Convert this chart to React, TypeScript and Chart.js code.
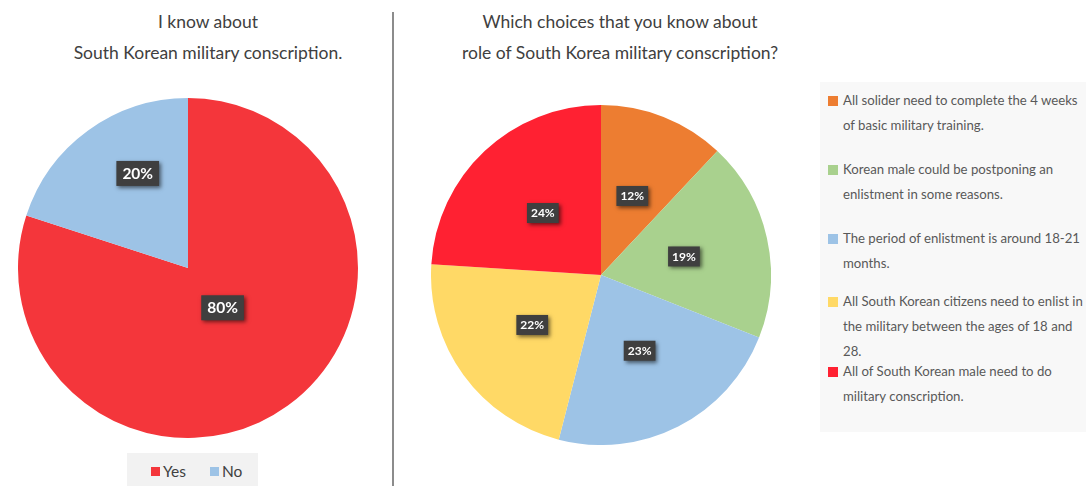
import React, { useEffect, useRef } from "react";
import { Chart, registerables } from "chart.js";

Chart.register(...registerables);

// ---------- data ----------
const LEFT_TITLE = ["I know about", "South Korean military conscription."];
const LEFT_LABELS = ["Yes", "No"];
const LEFT_VALUES = [80, 20];
const LEFT_COLORS = ["#F4363B", "#9DC3E6"];

const RIGHT_TITLE = ["Which choices that you know about", "role of South Korea military conscription?"];
const RIGHT_LABELS = [
  "All solider need to complete the 4 weeks\nof basic military training.",
  "Korean male could be postponing an\nenlistment in some reasons.",
  "The period of enlistment is around 18-21\nmonths.",
  "All South Korean citizens need to enlist in\nthe military between the ages of 18 and\n28.",
  "All of South Korean male need to do\nmilitary conscription.",
];
const RIGHT_VALUES = [12, 19, 23, 22, 24];
const RIGHT_COLORS = ["#ED7D31", "#A9D18E", "#9DC3E6", "#FFD966", "#FF2132"];

// label placement (fraction of radius, angle shift in degrees)
const LEFT_LABEL_RADIUS = [0.31, 0.63];
const LEFT_LABEL_SHIFT = [-5, 8];
const RIGHT_LABEL_RADIUS = [0.5, 0.5, 0.5, 0.5, 0.5];
const RIGHT_LABEL_SHIFT = [0, 0, 0, 0, 0];

// legend item tops (layout)
const RIGHT_LEGEND_TOPS = [88, 157, 226, 289, 359];

const FONT = "Lato, 'Open Sans', sans-serif";

function makeLabelPlugin(radiusFr: number[], shift: number[], fontSize: number, padX: number, boxH: number) {
  return {
    id: "boxLabels",
    afterDatasetsDraw(chart: any) {
      const ctx = chart.ctx;
      const meta = chart.getDatasetMeta(0);
      const ds = chart.data.datasets[0];
      const total = (ds.data as number[]).reduce((a, b) => a + b, 0);
      meta.data.forEach((arc: any, i: number) => {
        const p = arc.getProps(["x", "y", "startAngle", "endAngle", "outerRadius"], true);
        const ang = (p.startAngle + p.endAngle) / 2 + (shift[i] * Math.PI) / 180;
        const r = p.outerRadius * radiusFr[i];
        const cx = p.x + Math.cos(ang) * r;
        const cy = p.y + Math.sin(ang) * r;
        const txt = Math.round((ds.data[i] / total) * 100) + "%";
        ctx.save();
        ctx.font = `bold ${fontSize}px ${FONT}`;
        const tw = ctx.measureText(txt).width;
        const w = tw + padX * 2;
        ctx.shadowColor = "rgba(0,0,0,0.55)";
        ctx.shadowBlur = 4;
        ctx.shadowOffsetX = 2;
        ctx.shadowOffsetY = 2;
        ctx.fillStyle = "#3F3F3F";
        ctx.fillRect(cx - w / 2, cy - boxH / 2, w, boxH);
        ctx.shadowColor = "transparent";
        ctx.fillStyle = "#FFFFFF";
        ctx.textAlign = "center";
        ctx.textBaseline = "middle";
        ctx.fillText(txt, cx, cy + 0.5);
        ctx.restore();
      });
    },
  };
}

function PieCanvas(props: {
  labels: string[];
  values: number[];
  colors: string[];
  plugin: any;
  style: React.CSSProperties;
}) {
  const ref = useRef<HTMLCanvasElement>(null);
  useEffect(() => {
    if (!ref.current) return;
    const chart = new Chart(ref.current, {
      type: "pie",
      data: {
        labels: props.labels,
        datasets: [
          {
            data: props.values,
            backgroundColor: props.colors,
            borderWidth: 0,
          },
        ],
      },
      options: {
        responsive: false,
        animation: false,
        layout: { padding: 0 },
        plugins: { legend: { display: false }, tooltip: { enabled: false }, title: { display: false } },
      },
      plugins: [props.plugin],
    });
    return () => chart.destroy();
  }, []);
  return <canvas ref={ref} width={340} height={340} style={{ position: "absolute", ...props.style }} />;
}

export default function App() {
  const titleStyle: React.CSSProperties = {
    position: "absolute",
    textAlign: "center",
    fontFamily: FONT,
    fontSize: 17.5,
    color: "#404040",
    lineHeight: "31px",
  };
  return (
    <div
      style={{
        position: "absolute",
        left: 0,
        top: 0,
        width: 1086,
        height: 486,
        background: "#FFFFFF",
        overflow: "hidden",
        fontFamily: FONT,
      }}
    >
      {/* left title */}
      <div style={{ ...titleStyle, left: 8, width: 400, top: 6 }}>
        {LEFT_TITLE.map((t, i) => (
          <div key={i}>{t}</div>
        ))}
      </div>
      {/* right title */}
      <div style={{ ...titleStyle, left: 420, width: 400, top: 6 }}>
        {RIGHT_TITLE.map((t, i) => (
          <div key={i}>{t}</div>
        ))}
      </div>

      {/* divider */}
      <div style={{ position: "absolute", left: 392, top: 12, width: 1.5, height: 480, background: "#8C8C8C" }} />

      <PieCanvas
        labels={LEFT_LABELS}
        values={LEFT_VALUES}
        colors={LEFT_COLORS}
        plugin={makeLabelPlugin(LEFT_LABEL_RADIUS, LEFT_LABEL_SHIFT, 15.5, 6, 25)}
        style={{ left: 18, top: 98 }}
      />
      <PieCanvas
        labels={RIGHT_LABELS}
        values={RIGHT_VALUES}
        colors={RIGHT_COLORS}
        plugin={makeLabelPlugin(RIGHT_LABEL_RADIUS, RIGHT_LABEL_SHIFT, 12, 4, 20)}
        style={{ left: 431, top: 105 }}
      />

      {/* left legend */}
      <div
        style={{
          position: "absolute",
          left: 127,
          top: 453,
          width: 131,
          height: 40,
          background: "#F2F2F2",
        }}
      >
        <div
          style={{
            position: "absolute",
            top: 8,
            left: 24,
            display: "flex",
            alignItems: "center",
            fontSize: 15.5,
            color: "#404040",
            lineHeight: "20px",
          }}
        >
          {LEFT_LABELS.map((l, i) => (
            <div key={i} style={{ display: "flex", alignItems: "center", marginRight: i === 0 ? 24 : 0 }}>
              <span style={{ display: "inline-block", width: 9, height: 9, background: LEFT_COLORS[i], marginRight: 3 }} />
              <span>{l}</span>
            </div>
          ))}
        </div>
      </div>

      {/* right legend */}
      <div
        style={{
          position: "absolute",
          left: 820,
          top: 82,
          width: 266,
          height: 350,
          background: "#F8F8F8",
        }}
      >
        {RIGHT_LABELS.map((l, i) => (
          <div
            key={i}
            style={{
              position: "absolute",
              left: 8,
              top: RIGHT_LEGEND_TOPS[i] - 82,
              display: "flex",
              alignItems: "flex-start",
              fontSize: 13.2,
              lineHeight: "25px",
              color: "#595959",
              whiteSpace: "pre",
            }}
          >
            <span
              style={{
                display: "inline-block",
                width: 10,
                height: 10,
                background: RIGHT_COLORS[i],
                marginTop: 8,
                marginRight: 5,
                flex: "none",
              }}
            />
            <span>{l}</span>
          </div>
        ))}
      </div>
    </div>
  );
}
